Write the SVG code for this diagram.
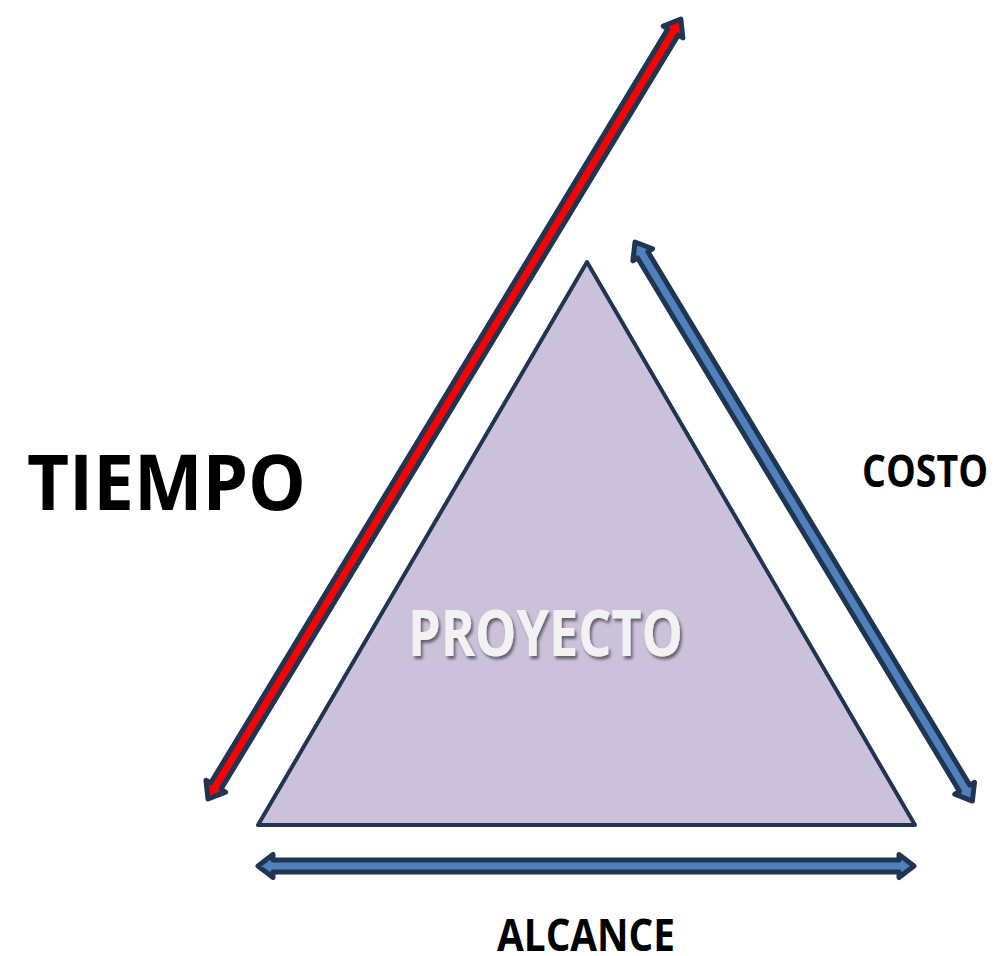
<svg xmlns="http://www.w3.org/2000/svg" width="1002" height="956" viewBox="0 0 1002 956">
<defs>
<style>
.arrow{stroke:#1f3552;stroke-width:5;stroke-linejoin:round}
.red{fill:#ff0000}
.blue{fill:#4f81bd}
.lbl{font-family:"Open Sans","Liberation Sans",sans-serif;font-weight:bold;fill:#000}
</style>
<filter id="sh" x="-10%" y="-20%" width="130%" height="150%">
<feGaussianBlur in="SourceAlpha" stdDeviation="1.5"/>
<feOffset dx="2" dy="3" result="b"/>
<feComponentTransfer><feFuncA type="linear" slope="0.5"/></feComponentTransfer>
<feMerge><feMergeNode/><feMergeNode in="SourceGraphic"/></feMerge>
</filter>
</defs>
<rect width="1002" height="956" fill="#ffffff"/>
<g id="proyecto">
<polygon points="587,262 258,825 915,825" fill="#ccc1da" stroke="#1f3552" stroke-width="4" stroke-linejoin="round"/>
<text x="408" y="656" font-family="'Open Sans','Liberation Sans',sans-serif" font-weight="bold" font-size="64" fill="#f2f2f2" textLength="275" lengthAdjust="spacingAndGlyphs" filter="url(#sh)">PROYECTO</text>
</g>
<g id="connectors">
<g id="tiempo-arrow" transform="translate(208,799) rotate(-58.77)">
<path class="arrow red" d="M0,0 L15,-11.5 L15,-6 L897,-6 L897,-11.5 L912,0 L897,11.5 L897,6 L15,6 L15,11.5 Z"/>
</g>
<g id="costo-arrow" transform="translate(635,242) rotate(58.89)">
<path class="arrow blue" d="M0,0 L15,-11.5 L15,-6 L638,-6 L638,-11.5 L653,0 L638,11.5 L638,6 L15,6 L15,11.5 Z"/>
</g>
<g id="alcance-arrow" transform="translate(258,866)">
<path class="arrow blue" d="M0,0 L15,-11.5 L15,-6 L641,-6 L641,-11.5 L656,0 L641,11.5 L641,6 L15,6 L15,11.5 Z"/>
</g>
</g>
<g id="tiempo">
<text class="lbl" x="27" y="510" font-size="77" textLength="279" lengthAdjust="spacingAndGlyphs">TIEMPO</text>
</g>
<g id="costo">
<text class="lbl" x="862" y="487" font-size="45" textLength="126" lengthAdjust="spacingAndGlyphs">COSTO</text>
</g>
<g id="alcance">
<text class="lbl" x="497" y="951" font-size="44" textLength="178" lengthAdjust="spacingAndGlyphs">ALCANCE</text>
</g>
</svg>
